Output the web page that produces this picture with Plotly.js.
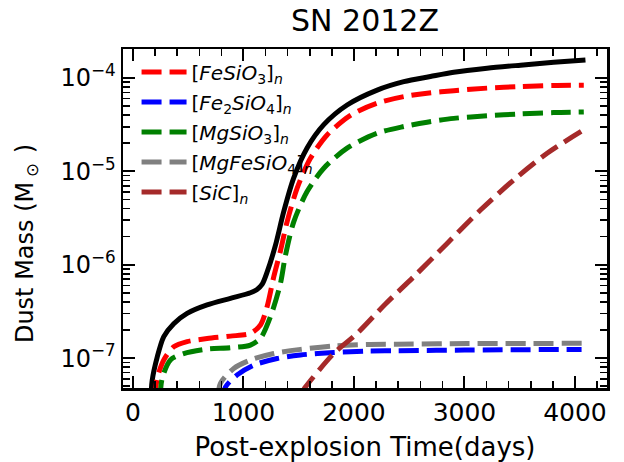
<!DOCTYPE html>
<html>
<head>
<meta charset="utf-8">
<script src="https://cdn.plot.ly/plotly-3.0.1.min.js"></script>
<style>html,body{margin:0;padding:0;background:#fff;}#chart{width:624px;height:462px;}</style>
</head>
<body>
<div id="chart"></div>
<script>
// Time (days) and dust mass (Msun)
const totalT = [160, 174, 219, 279, 369, 490, 671, 882, 1063, 1120, 1170, 1214, 1290, 1365, 1455, 1576, 1727, 1938, 2210, 2451, 2692, 2903, 3205, 3507, 3808, 4095];
const totalM = [3.16e-8, 5.75e-8, 1.02e-7, 1.70e-7, 2.34e-7, 3.02e-7, 3.72e-7, 4.37e-7, 5.01e-7, 5.40e-7, 6.20e-7, 8.32e-7, 1.62e-6, 3.72e-6, 8.51e-6, 1.78e-5, 3.16e-5, 5.13e-5, 7.41e-5, 9.12e-5, 1.035e-4, 1.15e-4, 1.27e-4, 1.37e-4, 1.47e-4, 1.56e-4];

const feSiO3T = [200, 219, 279, 369, 490, 671, 882, 1063, 1154, 1214, 1274, 1335, 1395, 1486, 1606, 1757, 1968, 2210, 2451, 2662, 2903, 3205, 3507, 3808, 4080];
const feSiO3M = [3.55e-8, 6.03e-8, 9.55e-8, 1.32e-7, 1.50e-7, 1.62e-7, 1.72e-7, 1.84e-7, 2.26e-7, 3.55e-7, 7.41e-7, 1.41e-6, 2.88e-6, 6.61e-6, 1.38e-5, 2.45e-5, 3.98e-5, 5.37e-5, 6.31e-5, 6.87e-5, 7.30e-5, 7.78e-5, 8.09e-5, 8.30e-5, 8.35e-5];

const fe2SiO4T = [815, 837, 943, 1093, 1305, 1516, 1817, 2119, 2391, 3000, 4060];
const fe2SiO4M = [3.55e-8, 4.90e-8, 6.61e-8, 8.41e-8, 9.91e-8, 1.08e-7, 1.15e-7, 1.19e-7, 1.20e-7, 1.22e-7, 1.24e-7];

const mgSiO3T = [245, 264, 339, 460, 671, 882, 1063, 1154, 1244, 1335, 1380, 1455, 1576, 1727, 1938, 2210, 2451, 2662, 2903, 3205, 3507, 3808, 4080];
const mgSiO3M = [3.55e-8, 6.03e-8, 9.55e-8, 1.12e-7, 1.25e-7, 1.29e-7, 1.38e-7, 1.63e-7, 2.77e-7, 6.32e-7, 1.26e-6, 2.88e-6, 6.07e-6, 1.08e-5, 1.77e-5, 2.56e-5, 3.02e-5, 3.36e-5, 3.69e-5, 3.94e-5, 4.12e-5, 4.26e-5, 4.32e-5];

const mgFeSiO4T = [770, 792, 912, 1063, 1274, 1516, 1817, 2119, 2391, 3024, 4080];
const mgFeSiO4M = [3.98e-8, 5.37e-8, 7.76e-8, 9.55e-8, 1.12e-7, 1.24e-7, 1.35e-7, 1.40e-7, 1.41e-7, 1.43e-7, 1.44e-7];

const sicT = [1530, 1561, 1817, 2029, 2285, 2541, 2843, 3145, 3446, 3748, 4080];
const sicM = [4.27e-8, 4.90e-8, 1.12e-7, 1.84e-7, 3.80e-7, 7.43e-7, 1.69e-6, 3.85e-6, 8.09e-6, 1.56e-5, 2.78e-5];

const names = ['[<i>FeSiO</i><sub>3</sub>]<sub><i>n</i></sub>',
               '[<i>Fe</i><sub>2</sub><i>SiO</i><sub>4</sub>]<sub><i>n</i></sub>',
               '[<i>MgSiO</i><sub>3</sub>]<sub><i>n</i></sub>',
               '[<i>MgFeSiO</i><sub>4</sub>]<sub><i>n</i></sub>',
               '[<i>SiC</i>]<sub><i>n</i></sub>'];
const xTickVals = [0, 1000, 2000, 3000, 4000];
const yTickVals = [1e-7, 1e-6, 1e-5, 1e-4];
const yTickText = ['10<sup>\u22127</sup>', '10<sup>\u22126</sup>', '10<sup>\u22125</sup>', '10<sup>\u22124</sup>'];
const yTitle = 'Dust Mass (M\u2009<sub>\u2299</sub>\u2009\u2009)';

const DASH = '20px,8px';
function dashed(x, y, name, color, grp) {
  return {x: x, y: y, name: name, mode: 'lines', legendgroup: grp,
          line: {color: color, width: 5, dash: DASH, shape: 'spline', smoothing: 0.8}};
}
const traces = [
  {x: totalT, y: totalM, mode: 'lines', showlegend: false, line: {color: 'black', width: 5, shape: 'spline', smoothing: 0.8}},
  dashed(feSiO3T, feSiO3M, names[0], 'red', 'a'),
  dashed(fe2SiO4T, fe2SiO4M, names[1], 'blue', 'b'),
  dashed(mgSiO3T, mgSiO3M, names[2], 'green', 'c'),
  dashed(mgFeSiO4T, mgFeSiO4M, names[3], 'gray', 'd'),
  dashed(sicT, sicM, names[4], 'brown', 'e')
];

const FONT = 'DejaVu Sans, sans-serif';
const layout = {
  width: 624, height: 462,
  margin: {l: 123, r: 17, t: 49, b: 74},
  paper_bgcolor: 'white', plot_bgcolor: 'white',
  font: {family: FONT, color: 'black'},
  title: {text: 'SN 2012Z', font: {family: FONT, size: 30, color: 'black'}, x: 0.585, xanchor: 'center', y: 0.955, yanchor: 'middle'},
  showlegend: true,
  legend: {x: 0.028, y: 0.99, xanchor: 'left', yanchor: 'top', bgcolor: 'rgba(0,0,0,0)', borderwidth: 0,
           itemwidth: 45,
           font: {family: FONT, size: 20, color: 'black'}, tracegroupgap: 1},
  annotations: [{
    text: yTitle, textangle: -90, showarrow: false,
    xref: 'paper', yref: 'paper', x: -0.198, y: 0.425, xanchor: 'center', yanchor: 'middle',
    font: {family: FONT, size: 24, color: 'black'}
  }],
  xaxis: {
    range: [-90, 4290], showgrid: false, zeroline: false,
    showline: true, linecolor: 'black', linewidth: 2.5, mirror: 'allticks',
    tickmode: 'array', tickvals: xTickVals, ticktext: xTickVals.map(String),
    ticks: 'inside', ticklen: 12, tickwidth: 2, tickcolor: 'black',
    tickfont: {family: FONT, size: 25, color: 'black'},
    minor: {ticks: 'inside', ticklen: 7, tickwidth: 1.5, tickcolor: 'black', dtick: 200, tick0: 0, showgrid: false},
    title: {text: 'Post-explosion Time(days)', font: {family: FONT, size: 26, color: 'black'}, standoff: 14},
    automargin: false
  },
  yaxis: {
    type: 'log', range: [-7.32, -3.69], showgrid: false, zeroline: false,
    showline: true, linecolor: 'black', linewidth: 2.5, mirror: 'allticks',
    tickmode: 'array', tickvals: yTickVals, ticktext: yTickText,
    ticks: 'inside', ticklen: 12, tickwidth: 2, tickcolor: 'black',
    tickfont: {family: FONT, size: 24, color: 'black'},
    minor: {ticks: 'inside', ticklen: 7, tickwidth: 1.5, tickcolor: 'black', dtick: 'D1', showgrid: false},
    automargin: false
  }
};
Plotly.newPlot('chart', traces, layout, {staticPlot: true, displayModeBar: false});
</script>
</body>
</html>
